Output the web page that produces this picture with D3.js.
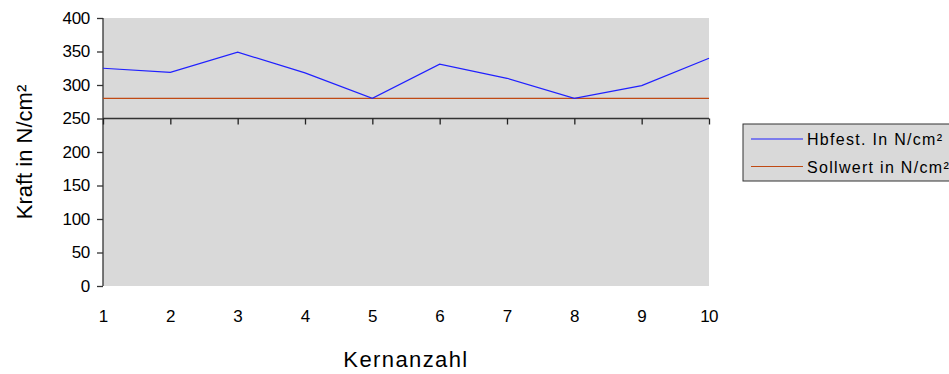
<!DOCTYPE html>
<html>
<head>
<meta charset="utf-8">
<script src="https://cdn.jsdelivr.net/npm/d3@7"></script>
<style>
  body { margin: 0; background: #fff; }
  text { font-family: "Liberation Sans", Arial, sans-serif; fill: #000; }
</style>
</head>
<body>
<div id="chart"></div>
<script>
const kerne = [1, 2, 3, 4, 5, 6, 7, 8, 9, 10];
const hbfest = [325, 319, 349, 318, 280, 331, 310, 280, 299, 340];
const sollwert = [280, 280, 280, 280, 280, 280, 280, 280, 280, 280];
const yTicks = [0, 50, 100, 150, 200, 250, 300, 350, 400];
const seriesNames = ["Hbfest. In N/cm²", "Sollwert in N/cm²"];

const W = 949, H = 374;
const margin = { top: 18, left: 103, right: 240, bottom: 88 };
const width = W - margin.left - margin.right;
const height = H - margin.top - margin.bottom;

const svg = d3.select("#chart")
    .append("svg")
    .attr("width", W)
    .attr("height", H);

const g = svg.append("g")
    .attr("transform", `translate(${margin.left},${margin.top})`);

const x = d3.scaleLinear().domain([1, 10]).range([0, width]);
const y = d3.scaleLinear().domain([0, 400]).range([height, 0]);

// plot area
g.append("rect")
    .attr("width", width)
    .attr("height", height)
    .attr("fill", "#d9d9d9");

// y axis
const yAxis = g.append("g")
    .call(d3.axisLeft(y).tickValues(yTicks).tickSize(6).tickPadding(7));
yAxis.attr("font-size", null).attr("font-family", null);
yAxis.selectAll("path, line").attr("stroke", "#333").attr("stroke-width", 1.3);
yAxis.select(".domain").attr("d", `M0,${height}V0`);
yAxis.selectAll("text")
    .style("font-size", "17px")
    .style("letter-spacing", "-0.3px");

// x axis line crossing at 250
const xAxis = g.append("g")
    .attr("transform", `translate(0,${y(250)})`)
    .call(d3.axisBottom(x).tickValues(kerne).tickSize(6).tickFormat(""));
xAxis.select(".domain").attr("d", `M0,0H${width}`).attr("stroke", "#333").attr("stroke-width", 1.6);
xAxis.selectAll("line").attr("stroke", "#222").attr("stroke-width", 1.3);

// x tick labels at bottom
g.append("g")
    .selectAll("text")
    .data(kerne)
    .enter()
    .append("text")
    .attr("x", d => x(d))
    .attr("y", height + 36)
    .attr("text-anchor", "middle")
    .style("font-size", "17px")
    .style("letter-spacing", "-0.8px")
    .text(d => d);

// lines
const line = d3.line().x((d, i) => x(kerne[i])).y(d => y(d));

g.append("path")
    .datum(sollwert)
    .attr("fill", "none")
    .attr("stroke", "#c04a14")
    .attr("stroke-width", 1.3)
    .attr("d", line);

g.append("path")
    .datum(hbfest)
    .attr("fill", "none")
    .attr("stroke", "#2020ff")
    .attr("stroke-width", 1.2)
    .attr("d", line);

// axis titles
svg.append("text")
    .attr("x", margin.left + width / 2)
    .attr("y", 367)
    .attr("text-anchor", "middle")
    .style("font-size", "22px")
    .style("letter-spacing", "1.4px")
    .text("Kernanzahl");

svg.append("text")
    .attr("transform", `translate(32,152) rotate(-90)`)
    .attr("text-anchor", "middle")
    .style("font-size", "22px")
    .text("Kraft in N/cm²");

// legend
const legend = svg.append("g").attr("transform", "translate(743,124)");
legend.append("rect")
    .attr("width", 215)
    .attr("height", 57)
    .attr("fill", "#d9d9d9")
    .attr("stroke", "#333")
    .attr("stroke-width", 1);

const colors = ["#2020ff", "#c04a14"];
seriesNames.forEach((name, i) => {
    const ly = 15 + i * 27.5;
    legend.append("line")
        .attr("x1", 8).attr("x2", 60)
        .attr("y1", ly).attr("y2", ly)
        .attr("stroke", colors[i])
        .attr("stroke-width", 1.2);
    legend.append("text")
        .attr("x", 64)
        .attr("y", ly + 6)
        .style("font-size", "16px")
        .style("letter-spacing", "1.3px")
        .text(name);
});
</script>
</body>
</html>
